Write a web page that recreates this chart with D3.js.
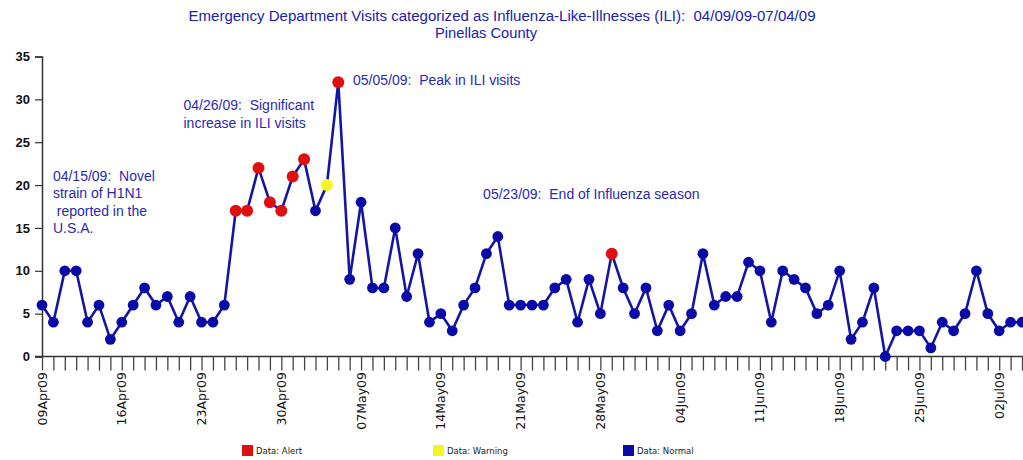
<!DOCTYPE html>
<html>
<head>
<meta charset="utf-8">
<script src="https://cdn.jsdelivr.net/npm/d3@7"></script>
<style>
  html, body { margin: 0; padding: 0; background: #fff; }
  svg { display: block; }
  text { white-space: pre; }
</style>
</head>
<body>
<svg id="chart" width="1023" height="460"></svg>
<script>
// ---- Data ----
const startDate = "2009-04-09";
const visits = [6,4,10,10,4,6,2,4,6,8,6,7,4,7,4,4,6,17,17,22,18,17,21,23,17,20,32,9,18,8,8,15,7,12,4,5,3,6,8,12,14,6,6,6,6,8,9,4,9,5,12,8,5,8,3,6,3,5,12,6,7,7,11,10,4,10,9,8,5,6,10,2,4,8,0,3,3,3,1,4,3,5,10,5,3,4,4];
const alertDays = ["2009-04-26","2009-04-27","2009-04-28","2009-04-29","2009-04-30","2009-05-01","2009-05-02","2009-05-05","2009-05-29"];
const warningDays = ["2009-05-04"];
const yTicks = [0,5,10,15,20,25,30,35];
const xTickLabels = ["09Apr09","16Apr09","23Apr09","30Apr09","07May09","14May09","21May09","28May09","04Jun09","11Jun09","18Jun09","25Jun09","02Jul09"];
const titleLines = ["Emergency Department Visits categorized as Influenza-Like-Illnesses (ILI):  04/09/09-07/04/09", "Pinellas County"];
// annotation anchor: day index (from start) and value where the text baseline begins
const annotationDays = [0.97, 12.4, 27.3, 38.7];
const annotationValues = [20.5, 28.75, 31.7, 18.4];
const annotationTexts = [
  ["04/15/09:  Novel", "strain of H1N1", " reported in the", "U.S.A."],
  ["04/26/09:  Significant", "increase in ILI visits"],
  ["05/05/09:  Peak in ILI visits"],
  ["05/23/09:  End of Influenza season"]
];
const legendLabels = ["Data: Alert", "Data: Warning", "Data: Normal"];
const legendColors = ["#e01010", "#f5f520", "#0a0aa8"];

// ---- Build ----
const parse = d3.timeParse("%Y-%m-%d");
const fmt = d3.timeFormat("%Y-%m-%d");
const t0 = parse(startDate);
const data = visits.map((v, i) => {
  const d = d3.timeDay.offset(t0, i);
  const k = fmt(d);
  return {date: d, value: v, status: alertDays.includes(k) ? "A" : (warningDays.includes(k) ? "W" : "N")};
});
const colorOf = {A: "#e01010", W: "#f5f520", N: "#0a0aa8"};

const svg = d3.select("#chart");
const x = d3.scaleTime().domain([t0, data[data.length-1].date]).range([42, 1022]);
const y = d3.scaleLinear().domain([0, 35]).range([356.5, 56.5]);

// Title
const titleX = [502, 486], titleW = [627, 102];
svg.append("g").selectAll("text").data(titleLines).join("text")
  .attr("x", (d, i) => titleX[i]).attr("y", (d, i) => 21 + i * 17)
  .attr("text-anchor", "middle")
  .attr("font-family", "Liberation Sans, Arial, sans-serif")
  .attr("font-size", 14)
  .attr("fill", "#2020b0")
  .attr("textLength", (d, i) => titleW[i])
  .attr("lengthAdjust", "spacingAndGlyphs")
  .text(d => d);

// Y axis
const yAxis = svg.append("g").attr("transform", "translate(42,0)")
  .call(d3.axisLeft(y).tickValues(yTicks).tickSize(7).tickPadding(5));
yAxis.select(".domain").attr("stroke", "#333").attr("stroke-width", 1.5);
yAxis.selectAll(".tick line").attr("stroke", "#333").attr("stroke-width", 1.2);
yAxis.selectAll(".tick text")
  .attr("font-family", "Liberation Sans, Arial, sans-serif")
  .attr("font-size", 13).attr("font-weight", "bold").attr("fill", "#111");

// X axis: tick every day
const xAxis = svg.append("g").attr("transform", `translate(0,${y(0)})`)
  .call(d3.axisBottom(x).ticks(d3.timeDay.every(1)).tickSize(14).tickFormat(""));
xAxis.select(".domain").attr("stroke", "#333").attr("stroke-width", 1.5).attr("d", `M35,0H1023`);
xAxis.selectAll(".tick line").attr("stroke", "#444").attr("stroke-width", 1.3);

// weekly labels
const labelDates = xTickLabels.map((_, i) => d3.timeDay.offset(t0, i * 7));
svg.append("g").selectAll("text").data(labelDates).join("text")
  .attr("transform", (d) => `translate(${x(d) + 4.5},372) rotate(-90)`)
  .attr("text-anchor", "end")
  .attr("font-family", "DejaVu Sans, sans-serif")
  .attr("font-size", 12.5)
  .attr("fill", "#111")
  .text((d, i) => xTickLabels[i]);

// Line
const line = d3.line().x(d => x(d.date)).y(d => y(d.value));
svg.append("path").datum(data)
  .attr("d", line).attr("fill", "none")
  .attr("stroke", "#1515a5").attr("stroke-width", 2.6);

// Points
svg.append("g").selectAll("circle").data(data).join("circle")
  .attr("cx", d => x(d.date)).attr("cy", d => y(d.value))
  .attr("r", d => d.status === "N" ? 5.4 : 6)
  .attr("fill", d => colorOf[d.status]);

// Annotations
annotationTexts.forEach((lines, k) => {
  const ax = x(d3.timeHour.offset(t0, Math.round(annotationDays[k] * 24)));
  const ay = y(annotationValues[k]);
  svg.append("g").selectAll("text").data(lines).join("text")
    .attr("x", ax).attr("y", (d, i) => ay + i * 17.5)
    .attr("font-family", "Liberation Sans, Arial, sans-serif")
    .attr("font-size", 14)
    .attr("fill", "#2a2ab0")
    .text(d => d);
});

// Legend
const lx = [242, 433, 623];
const lg = svg.append("g").selectAll("g").data(legendLabels).join("g")
  .attr("transform", (d, i) => `translate(${lx[i]},445)`);
lg.append("rect").attr("width", 11).attr("height", 11).attr("fill", (d, i) => legendColors[i]);
lg.append("text").attr("x", 14).attr("y", 9)
  .attr("font-family", "DejaVu Sans, sans-serif").attr("font-size", 8.5)
  .attr("fill", "#222").text(d => d);
</script>
</body>
</html>
